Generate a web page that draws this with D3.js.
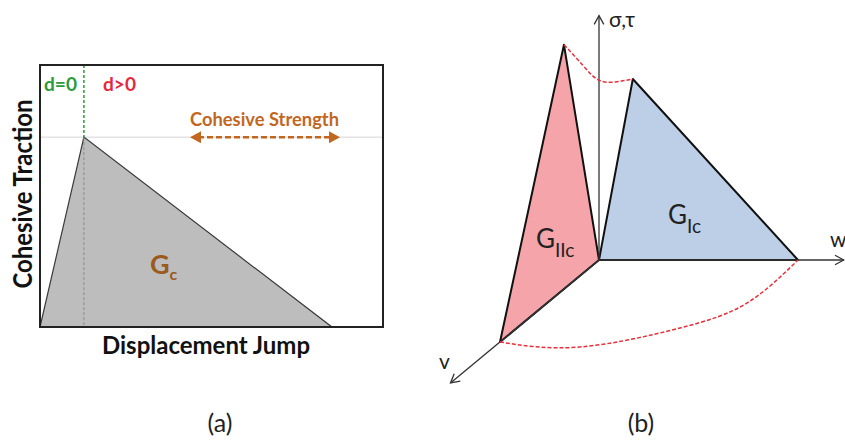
<!DOCTYPE html>
<html>
<head>
<meta charset="utf-8">
<script src="https://cdn.jsdelivr.net/npm/d3@7"></script>
<style>
  html, body { margin: 0; padding: 0; background: #fff; }
  svg { display: block; }
  text { font-family: Lato, "Open Sans", sans-serif; }
</style>
</head>
<body>
<div id="chart"></div>
<script>
// panel (a): bilinear traction-separation law
const displacement = [0, 0.128, 0.851];
const traction = [0, 1, 0];
const strengthLevel = 1;

// panel (b): mixed-mode laws
const modeIW = [0, 0.17, 1];
const modeISigma = [0, 1, 0];
const modeIIV = [0, 0.354, 1];
const modeIITau = [0, 1.35, 0];

// envelope of peaks (w, v, traction) and of final openings (w, v)
const peakEnvW = [0, 0.046, 0.085, 0.1275, 0.17];
const peakEnvV = [0.354, 0.258, 0.177, 0.0885, 0];
const peakEnvS = [1.35, 1.194, 1.075, 1.024, 1];
const baseEnvW = [0, 0.432, 0.82, 1.005, 1];
const baseEnvV = [1, 1.061, 0.829, 0.524, 0];

const captions = ["(a)", "(b)"];

const W = 845, H = 442;
const svg = d3.select("#chart").append("svg")
  .attr("width", W)
  .attr("height", H);

// ---------- panel (a) ----------
const x = d3.scaleLinear().domain([0, 1]).range([40, 383]);
const y = d3.scaleLinear().domain([0, 1.38]).range([327, 65]);

const ga = svg.append("g");

ga.append("line")
  .attr("x1", x(0)).attr("x2", x(1))
  .attr("y1", y(strengthLevel)).attr("y2", y(strengthLevel))
  .attr("stroke", "#d6d6d6").attr("stroke-width", 1);

const law = displacement.map((d, i) => [x(d), y(traction[i])]);
ga.append("path")
  .attr("d", "M" + law.join("L") + "Z")
  .attr("fill", "#bdbdbd")
  .attr("stroke", "#3a3a3a")
  .attr("stroke-width", 1.2);

// d=0 / d>0 separator
ga.append("line")
  .attr("x1", x(displacement[1])).attr("x2", x(displacement[1]))
  .attr("y1", y.range()[1]).attr("y2", y(strengthLevel))
  .attr("stroke", "#2e9a3c").attr("stroke-width", 1.5)
  .attr("stroke-dasharray", "3,2");
ga.append("line")
  .attr("x1", x(displacement[1])).attr("x2", x(displacement[1]))
  .attr("y1", y(strengthLevel)).attr("y2", y(0))
  .attr("stroke", "#8a8a8a").attr("stroke-width", 1)
  .attr("stroke-dasharray", "3,2");

ga.append("rect")
  .attr("x", x(0)).attr("y", y.range()[1])
  .attr("width", x(1) - x(0)).attr("height", y(0) - y.range()[1])
  .attr("fill", "none").attr("stroke", "#222").attr("stroke-width", 2);

ga.append("text").attr("x", 44).attr("y", 91)
  .attr("fill", "#2e9a3c").attr("font-weight", 700).attr("font-size", 19)
  .attr("textLength", 33).attr("lengthAdjust", "spacingAndGlyphs")
  .text("d=0");
ga.append("text").attr("x", 103).attr("y", 91)
  .attr("fill", "#e5283c").attr("font-weight", 700).attr("font-size", 19)
  .attr("textLength", 33).attr("lengthAdjust", "spacingAndGlyphs")
  .text("d>0");

// cohesive strength arrow
const brown = "#c2671f";
const ax0 = 190, ax1 = 340, ay = y(strengthLevel);
ga.append("line")
  .attr("x1", ax0 + 8).attr("x2", ax1 - 8)
  .attr("y1", ay).attr("y2", ay)
  .attr("stroke", brown).attr("stroke-width", 2.5)
  .attr("stroke-dasharray", "6,3");
ga.append("path")
  .attr("d", `M${ax0},${ay}L${ax0 + 11},${ay - 6}L${ax0 + 11},${ay + 6}Z`)
  .attr("fill", brown);
ga.append("path")
  .attr("d", `M${ax1},${ay}L${ax1 - 11},${ay - 6}L${ax1 - 11},${ay + 6}Z`)
  .attr("fill", brown);
ga.append("text").attr("x", 190).attr("y", 126)
  .attr("fill", brown).attr("font-weight", 700).attr("font-size", 19)
  .attr("textLength", 149).attr("lengthAdjust", "spacingAndGlyphs")
  .text("Cohesive Strength");

const gc = ga.append("text").attr("x", 150).attr("y", 274)
  .attr("fill", "#9c5a1c").attr("font-weight", 700).attr("font-size", 27);
gc.append("tspan").text("G");
gc.append("tspan").attr("font-size", 16).attr("dy", 6).text("c");

ga.append("text")
  .attr("transform", `translate(32,194) rotate(-90)`)
  .attr("text-anchor", "middle")
  .attr("font-weight", 700).attr("font-size", 26).attr("fill", "#111")
  .attr("textLength", 189).attr("lengthAdjust", "spacingAndGlyphs")
  .text("Cohesive Traction");
ga.append("text")
  .attr("x", 206).attr("y", 354)
  .attr("text-anchor", "middle")
  .attr("font-weight", 700).attr("font-size", 25).attr("fill", "#111")
  .attr("textLength", 208).attr("lengthAdjust", "spacingAndGlyphs")
  .text("Displacement Jump");

// ---------- panel (b) ----------
const ox = 599, oy = 260;
const wx = d3.scaleLinear().domain([0, 1]).range([0, 199]);
const vx = d3.scaleLinear().domain([0, 1]).range([0, -99]);
const vy = d3.scaleLinear().domain([0, 1]).range([0, 82]);
const sy = d3.scaleLinear().domain([0, 1]).range([0, 181]);
const project = (w, v, s) => [ox + wx(w) + vx(v), oy + vy(v) - sy(s)];

const gb = svg.append("g");

const modeII = modeIIV.map((v, i) => project(0, v, modeIITau[i]));
gb.append("path")
  .attr("d", "M" + modeII.join("L") + "Z")
  .attr("fill", "#f5a4a9").attr("stroke", "#111").attr("stroke-width", 2)
  .attr("stroke-linejoin", "round");

const modeI = modeIW.map((w, i) => project(w, 0, modeISigma[i]));
gb.append("path")
  .attr("d", "M" + modeI.join("L") + "Z")
  .attr("fill", "#bccfe6").attr("stroke", "#111").attr("stroke-width", 2)
  .attr("stroke-linejoin", "round");

// axes
const axisColor = "#333";
function arrowAxis(p0, p1) {
  gb.append("line")
    .attr("x1", p0[0]).attr("y1", p0[1]).attr("x2", p1[0]).attr("y2", p1[1])
    .attr("stroke", axisColor).attr("stroke-width", 1.3);
  const ang = Math.atan2(p1[1] - p0[1], p1[0] - p0[0]);
  const L = 10, a = 0.5;
  const h1 = [p1[0] - L * Math.cos(ang - a), p1[1] - L * Math.sin(ang - a)];
  const h2 = [p1[0] - L * Math.cos(ang + a), p1[1] - L * Math.sin(ang + a)];
  gb.append("path")
    .attr("d", `M${h1}L${p1}L${h2}`)
    .attr("fill", "none").attr("stroke", axisColor).attr("stroke-width", 1.3);
}
arrowAxis(project(0, 0, 0), project(0, 0, 1.35));
arrowAxis(project(0, 0, 0), project(1.23, 0, 0));
arrowAxis(project(0, 0, 0), project(0, 1.5, 0));

// envelopes
const env = d3.line().curve(d3.curveNatural);
gb.append("path")
  .attr("d", env(peakEnvW.map((w, i) => project(w, peakEnvV[i], peakEnvS[i]))))
  .attr("fill", "none").attr("stroke", "#e8303c").attr("stroke-width", 1.5)
  .attr("stroke-dasharray", "4,2");
gb.append("path")
  .attr("d", env(baseEnvW.map((w, i) => project(w, baseEnvV[i], 0))))
  .attr("fill", "none").attr("stroke", "#e8303c").attr("stroke-width", 1.5)
  .attr("stroke-dasharray", "4,2");

gb.append("text").attr("x", 609).attr("y", 27)
  .attr("font-size", 21).attr("fill", "#222").text("σ,τ");
gb.append("text").attr("x", 830).attr("y", 247)
  .attr("font-size", 21).attr("fill", "#222").text("w");
gb.append("text").attr("x", 439).attr("y", 369)
  .attr("font-size", 21).attr("fill", "#222").text("v");

const g2 = gb.append("text").attr("x", 536).attr("y", 248)
  .attr("font-size", 26).attr("fill", "#222");
g2.append("tspan").text("G");
g2.append("tspan").attr("font-size", 19).attr("dy", 9).text("IIc");
const g1 = gb.append("text").attr("x", 668).attr("y", 224)
  .attr("font-size", 26).attr("fill", "#222");
g1.append("tspan").text("G");
g1.append("tspan").attr("font-size", 19).attr("dy", 9).text("Ic");

// captions
svg.selectAll(".caption")
  .data(captions)
  .enter().append("text")
  .attr("class", "caption")
  .attr("x", (d, i) => [220, 641][i])
  .attr("y", 432)
  .attr("text-anchor", "middle")
  .attr("font-size", 25).attr("fill", "#222")
  .text(d => d);
</script>
</body>
</html>
